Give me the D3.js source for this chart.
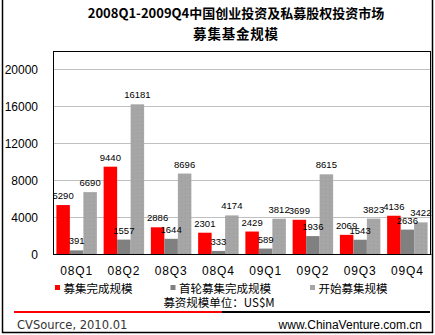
<!DOCTYPE html>
<html><head><meta charset="utf-8">
<script src="https://cdn.jsdelivr.net/npm/d3@7"></script>
<style>body{margin:0;background:#fff}svg{display:block}</style>
</head><body>
<svg id="c" width="435" height="335"></svg>
<script>
const categories = ["08Q1","08Q2","08Q3","08Q4","09Q1","09Q2","09Q3","09Q4"];
const seriesNames = ["募集完成规模","首轮募集完成规模","开始募集规模"];
const completed = [5290,9440,2886,2301,2429,3699,2069,4136];
const firstClose = [391,1557,1644,333,589,1936,1543,2636];
const started = [6690,16181,8696,4174,3812,8615,3823,3422];
const yTicks = [0,4000,8000,12000,16000,20000];
const titleLines = ["2008Q1-2009Q4中国创业投资及私募股权投资市场","募集基金规模"];
const unitText = "募资规模单位：US$M";
const sourceText = "CVSource, 2010.01";
const siteText = "www.ChinaVenture.com.cn";
const colors = ["#FF0000","#808080","#A6A6A6"];

const svg = d3.select("#c");
const defs = svg.append("defs");
const pat = defs.append("pattern").attr("id","dots").attr("patternUnits","userSpaceOnUse")
  .attr("width",4).attr("height",4);
pat.append("rect").attr("width",4).attr("height",4).attr("fill",colors[2]);
pat.append("rect").attr("x",1).attr("y",1).attr("width",1).attr("height",1).attr("fill","#9a9a9a");

// outer frame
svg.append("path").attr("d","M2.5,0V332.5H432.5V0").attr("fill","none").attr("stroke","#000").attr("stroke-width",1.5);

// title
svg.append("text").attr("x",236).attr("y",18).attr("text-anchor","middle")
  .attr("font-family","'Noto Sans CJK SC', sans-serif").attr("font-weight","bold").attr("font-size",13)
  .text(titleLines[0]);
svg.append("text").attr("x",236).attr("y",39).attr("text-anchor","middle")
  .attr("font-family","'Noto Sans CJK SC', sans-serif").attr("font-weight","bold").attr("font-size",13.5)
  .attr("letter-spacing",0.8)
  .text(titleLines[1]);

const L=53, R=431, T=51, B=254;
const x = d3.scaleBand().domain(categories).range([L,R]).paddingInner(0.143).paddingOuter(0.0715);
const xs = d3.scaleBand().domain([0,1,2]).range([0,x.bandwidth()]);
const y = d3.scaleLinear().domain([0,20000]).range([B,69]);

// gridlines
svg.append("g").selectAll("line").data(yTicks.filter(d=>d>0)).join("line")
  .attr("x1",L).attr("x2",R).attr("y1",d=>Math.round(y(d))+0.5).attr("y2",d=>Math.round(y(d))+0.5)
  .attr("stroke","#C0C0C0");

// y axis labels
const yAxis = d3.axisLeft(y).tickValues(yTicks).tickSize(0).tickPadding(0).tickFormat(d3.format("d"));
const ga = svg.append("g").attr("transform",`translate(${L-15},0)`).call(yAxis);
ga.select(".domain").remove();
ga.selectAll("text").attr("font-family","'Liberation Sans', Arial, sans-serif").attr("font-size",12).attr("fill","#000").attr("dy","0.35em");

// plot frame
svg.append("rect").attr("x",L+0.5).attr("y",T+0.5).attr("width",R-L-1).attr("height",B-T)
  .attr("fill","none").attr("stroke","#000");

const series=[completed,firstClose,started];
const fills=[colors[0],colors[1],"url(#dots)"];
series.forEach((vals,si)=>{
  const g=svg.append("g");
  g.selectAll("rect").data(vals).join("rect")
    .attr("x",(d,i)=>x(categories[i])+xs(si))
    .attr("width",xs.bandwidth())
    .attr("y",d=>y(d)).attr("height",d=>B-y(d))
    .attr("fill",fills[si]);
});
series.forEach((vals,si)=>{
  svg.append("g").selectAll("text").data(vals).join("text")
    .attr("x",(d,i)=>x(categories[i])+xs(si)+xs.bandwidth()/2)
    .attr("y",d=>y(d)-6)
    .attr("text-anchor","middle")
    .attr("font-family","'Liberation Sans', Arial, sans-serif").attr("font-size",9.5)
    .text(d=>d);
});
// baseline
svg.append("line").attr("x1",L).attr("x2",R+0.5).attr("y1",B+0.5).attr("y2",B+0.5).attr("stroke","#000");

// x labels
const xAxis = d3.axisBottom(x).tickSize(0).tickPadding(0);
const gx = svg.append("g").attr("transform",`translate(0,${B+12})`).call(xAxis);
gx.select(".domain").remove();
gx.selectAll("text").attr("font-family","'Liberation Sans', Arial, sans-serif").attr("font-size",12)
  .attr("fill","#000").attr("letter-spacing",0.8).attr("dy","0.71em");

// legend
const legX=[55,170.5,310];
seriesNames.forEach((n,i)=>{
  svg.append("rect").attr("x",legX[i]).attr("y",285).attr("width",5).attr("height",5).attr("fill",colors[i]);
  svg.append("text").attr("x",legX[i]+8.5).attr("y",292.5)
    .attr("font-family","'Noto Sans CJK SC', sans-serif").attr("font-size",11.5).text(n);
});
svg.append("text").attr("x",219).attr("y",307).attr("text-anchor","middle")
  .attr("font-family","'Noto Sans CJK SC', sans-serif").attr("font-size",11.5).text(unitText);

// divider
svg.append("line").attr("x1",14).attr("x2",222).attr("y1",312).attr("y2",312).attr("stroke","#FF0000").attr("stroke-width",2);
svg.append("line").attr("x1",222).attr("x2",430).attr("y1",312).attr("y2",312).attr("stroke","#000").attr("stroke-width",2);

svg.append("text").attr("x",17).attr("y",328.5)
  .attr("font-family","'DejaVu Sans', sans-serif").attr("font-size",11.5).attr("fill","#333").text(sourceText);
svg.append("text").attr("x",422).attr("y",328.5).attr("text-anchor","end")
  .attr("font-family","'Liberation Sans', Arial, sans-serif").attr("font-size",12).attr("fill","#000").text(siteText);
</script>
</body></html>
